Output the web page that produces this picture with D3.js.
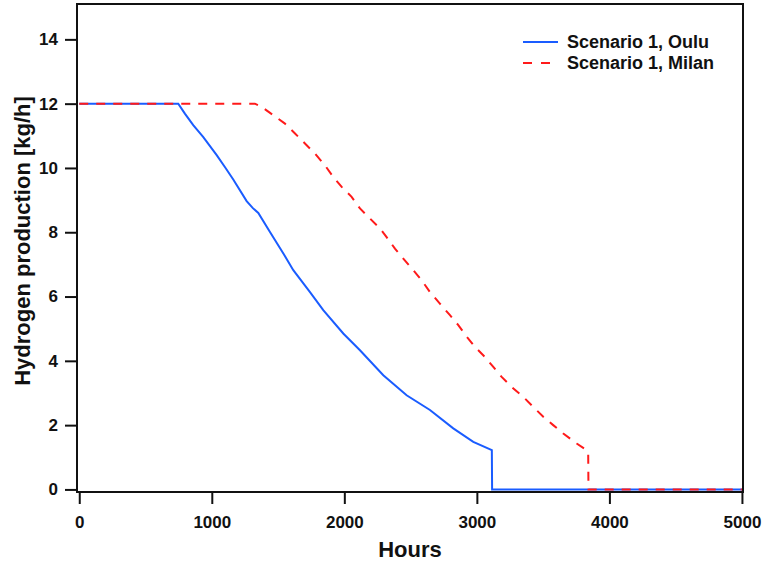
<!DOCTYPE html>
<html>
<head>
<meta charset="utf-8">
<script src="https://cdn.jsdelivr.net/npm/d3@7"></script>
<style>
  body { margin: 0; background: #fff; }
  text { font-family: "Liberation Sans", Arial, sans-serif; font-weight: bold; fill: #111; }
</style>
</head>
<body>
<div id="chart"></div>
<script>
// Hours vs hydrogen production
const ouluHours = [0, 747, 797, 860, 936, 1037, 1100, 1162, 1263, 1310, 1351, 1439, 1540, 1615, 1741, 1841, 1992, 2118, 2294, 2470, 2646, 2822, 2973, 3113, 3115, 5000];
const ouluValues = [12, 12, 11.69, 11.33, 10.96, 10.4, 10.02, 9.64, 8.97, 8.75, 8.6, 8.01, 7.34, 6.82, 6.14, 5.58, 4.85, 4.33, 3.55, 2.93, 2.47, 1.9, 1.48, 1.22, 0, 0];

const milanHours = [0, 1325, 1376, 1464, 1552, 1628, 1703, 1778, 1854, 1917, 1980, 2055, 2118, 2193, 2269, 2319, 2382, 2445, 2520, 2583, 2646, 2721, 2797, 2860, 2923, 2986, 3061, 3124, 3187, 3262, 3350, 3425, 3501, 3576, 3652, 3753, 3828, 3840, 3842, 5000];
const milanValues = [12, 12, 11.9, 11.64, 11.38, 11.07, 10.76, 10.45, 10.08, 9.72, 9.41, 9.1, 8.74, 8.43, 8.12, 7.85, 7.49, 7.18, 6.82, 6.51, 6.14, 5.78, 5.42, 5.11, 4.75, 4.43, 4.12, 3.81, 3.5, 3.19, 2.88, 2.57, 2.26, 2.0, 1.74, 1.43, 1.22, 1.12, 0, 0];

const xTicks = [0, 1000, 2000, 3000, 4000, 5000];
const yTicks = [0, 2, 4, 6, 8, 10, 12, 14];

const seriesNames = ["Scenario 1, Oulu", "Scenario 1, Milan"];
const colors = ["#1a5cff", "#ff1a1a"];

const width = 763, height = 567;
const plotLeft = 77, plotRight = 743, plotTop = 4, plotBottom = 492;

const svg = d3.select("#chart")
    .append("svg")
    .attr("width", width)
    .attr("height", height);

const x = d3.scaleLinear().domain([-17, 5008]).range([plotLeft, plotRight]);
const y = d3.scaleLinear().domain([-0.08, 15.1]).range([plotBottom, plotTop]);

// frame
svg.append("rect")
    .attr("x", plotLeft).attr("y", plotTop)
    .attr("width", plotRight - plotLeft).attr("height", plotBottom - plotTop)
    .attr("fill", "none")
    .attr("stroke", "#111")
    .attr("stroke-width", 2);

// axes
const yAxis = svg.append("g")
    .attr("transform", `translate(${plotLeft},0)`)
    .call(d3.axisLeft(y).tickValues(yTicks).tickFormat(d3.format("d")).tickSize(12).tickPadding(7));

const xAxis = svg.append("g")
    .attr("transform", `translate(0,${plotBottom})`)
    .call(d3.axisBottom(x).tickValues(xTicks).tickFormat(d3.format("d")).tickSize(12).tickPadding(12));

[xAxis, yAxis].forEach(g => {
    g.select(".domain").remove();
    g.selectAll(".tick line").attr("stroke", "#111").attr("stroke-width", 2);
    g.selectAll(".tick text")
        .style("font-family", "'Liberation Sans', Arial, sans-serif")
        .style("font-weight", "bold")
        .style("font-size", "17px")
        .attr("fill", "#111");
});

// lines
const line = d3.line().x(d => x(d[0])).y(d => y(d[1]));
const oulu = ouluHours.map((h, i) => [h, ouluValues[i]]);
const milan = milanHours.map((h, i) => [h, milanValues[i]]);

svg.append("path")
    .datum(oulu)
    .attr("d", line)
    .attr("fill", "none")
    .attr("stroke", colors[0])
    .attr("stroke-width", 2);

svg.append("path")
    .datum(milan)
    .attr("d", line)
    .attr("fill", "none")
    .attr("stroke", colors[1])
    .attr("stroke-width", 2)
    .attr("stroke-dasharray", "9,8");

// axis titles
svg.append("text")
    .attr("text-anchor", "middle")
    .attr("x", 410)
    .attr("y", 557)
    .style("font-size", "22px")
    .text("Hours");

svg.append("text")
    .attr("text-anchor", "middle")
    .attr("transform", "translate(29.5,241)rotate(-90)")
    .style("font-size", "22px")
    .text("Hydrogen production [kg/h]");

// legend
const legend = svg.append("g");
seriesNames.forEach((name, i) => {
    const ly = 42 + i * 21;
    legend.append("line")
        .attr("x1", 523).attr("x2", 558)
        .attr("y1", ly).attr("y2", ly)
        .attr("stroke", colors[i])
        .attr("stroke-width", 2)
        .attr("stroke-dasharray", i === 1 ? "9,9" : null);
    legend.append("text")
        .attr("x", 567)
        .attr("y", ly + 6)
        .style("font-size", "18px")
        .text(name);
});
</script>
</body>
</html>
